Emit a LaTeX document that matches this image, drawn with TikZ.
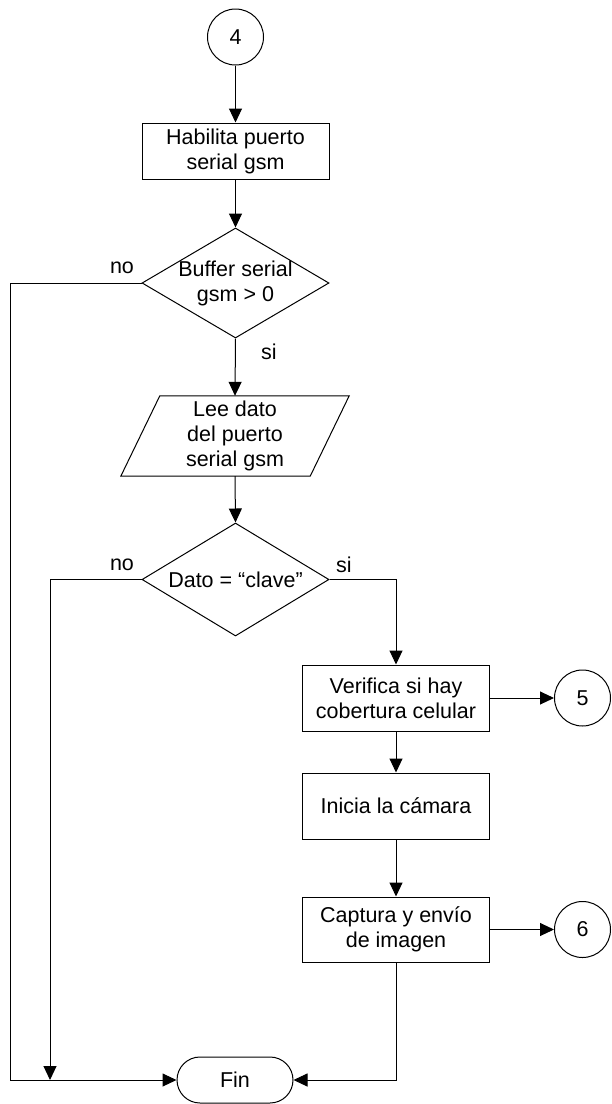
\documentclass[tikz,border=0pt]{standalone}
\usepackage{fontspec}
\setmainfont{Liberation Sans}
\usetikzlibrary{shapes.geometric,shapes.misc,arrows.meta}
\begin{document}
\begin{tikzpicture}[x=1pt,y=-1pt,
  every node/.style={font=\fontsize{21.5}{25}\selectfont},
  line/.style={draw=black,line width=1pt},
  arr/.style={line,-{Triangle[length=14pt,width=13pt]}},
  proc/.style={draw,line width=1pt,rectangle,minimum width=187pt,minimum height=66pt,align=center,inner sep=0pt},
  conn/.style={draw,line width=1pt,circle,minimum size=56pt,inner sep=0pt},
  decis/.style={draw,line width=1pt,diamond,minimum width=187pt,inner sep=0pt},
  lbl/.style={inner sep=0pt}
]
\useasboundingbox (0,0) rectangle (611,1104);
\node[conn] (c4) at (235.5,37) {4};
\node[proc,minimum height=56pt] (b1) at (235.5,151) {Habilita puerto\\serial gsm};
\node[decis,minimum height=110pt,label={[align=center]center:Buffer serial\\gsm > 0}] (d1) at (235.5,283) {};
\node[rectangle,minimum width=228pt,minimum height=80pt,inner sep=0pt,align=center] (p1) at (235,436) {Lee dato\\del puerto\\serial gsm};
\draw[line] ([xshift=39pt]p1.north west) -- (p1.north east) -- ([xshift=-39pt]p1.south east) -- (p1.south west) -- cycle;
\node[decis,minimum height=113pt,label={center:Dato = “clave”}] (d2) at (235.5,579.5) {};
\node[proc] (b2) at (396,698) {Verifica si hay\\cobertura celular};
\node[proc] (b3) at (396,806) {Inicia la cámara};
\node[proc,minimum height=65pt] (b4) at (396,929.5) {Captura y envío\\de imagen};
\node[conn] (c5) at (582.5,698) {5};
\node[conn] (c6) at (582.5,929.5) {6};
\node[draw,line width=1pt,rounded rectangle,minimum width=116pt,minimum height=46pt,inner sep=0pt] (fin) at (235,1080) {Fin};
\coordinate (j1) at (50,1080);
\node[lbl] (n1) at (122,268) {no};
\node[lbl] (s1) at (269,352) {si};
\node[lbl] (n2) at (122,565) {no};
\node[lbl] (s2) at (344,565) {si};
\draw[arr] (c4) -- (b1);
\draw[arr] (b1) -- (d1);
\draw[arr] (d1.west) -- (10,283) |- (fin.west);
\draw[arr] (d1.south) -- (p1.north);
\draw[arr] (p1.south) -- (d2.north);
\draw[arr] (d2.west) -- (50,579.5) -- (j1);
\draw[arr] (d2.east) -| (b2.north);
\draw[arr] (b2) -- (c5);
\draw[arr] (b2) -- (b3);
\draw[arr] (b3) -- (b4);
\draw[arr] (b4) -- (c6);
\draw[arr] (b4.south) |- (fin.east);
\end{tikzpicture}
\end{document}
